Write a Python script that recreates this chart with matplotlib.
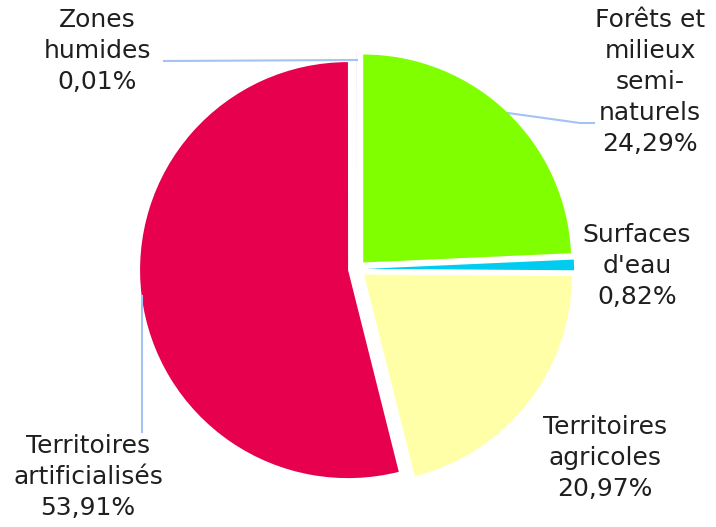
import matplotlib
matplotlib.use("Agg")
import matplotlib.pyplot as plt

# land cover shares (%)
labels = ["Forêts et\nmilieux\nsemi-\nnaturels", "Surfaces\nd'eau", "Territoires\nagricoles",
          "Territoires\nartificialisés", "Zones\nhumides"]
shares = [24.29, 0.82, 20.97, 53.91, 0.01]
pct_text = ["24,29%", "0,82%", "20,97%", "53,91%", "0,01%"]
colors = ["#80ff00", "#00ccf2", "#ffffa8", "#e6004d", "#a6a6ff"]

W, H = 716, 527
fig = plt.figure(figsize=(W / 100, H / 100), dpi=100)
ax = fig.add_axes([0, 0, 1, 1])

cx, cy, r = 357, H - 269, 208
# explode is given in data units (pixels here)
ax.pie(shares, colors=colors, startangle=90, counterclock=False,
       explode=[9] * len(shares), center=(cx, cy), radius=r,
       wedgeprops=dict(linewidth=0))

ax.set_xlim(0, W)
ax.set_ylim(0, H)
ax.set_aspect("auto")
ax.axis("off")

# label centres, in pixels from the top-left corner
label_pos = [(650, 82), (637, 266), (605, 458), (88, 477), (97, 51)]
for lab, pct, (x, y) in zip(labels, pct_text, label_pos):
    ax.text(x, H - y, lab + "\n" + pct, ha="center", va="center",
            fontsize=18, color="#1f1f1f", linespacing=1.38,
            family="DejaVu Sans")

# leader lines
line_col = "#a4c2f4"
ax.plot([163, 358], [H - 61, H - 60], color=line_col, lw=1.5, solid_capstyle="butt")
ax.plot([508, 580, 594], [H - 113, H - 123, H - 123], color=line_col, lw=1.5)
ax.plot([141.5, 141.5], [H - 296, H - 432], color=line_col, lw=1.5)

fig.savefig("out.png", dpi=100)
